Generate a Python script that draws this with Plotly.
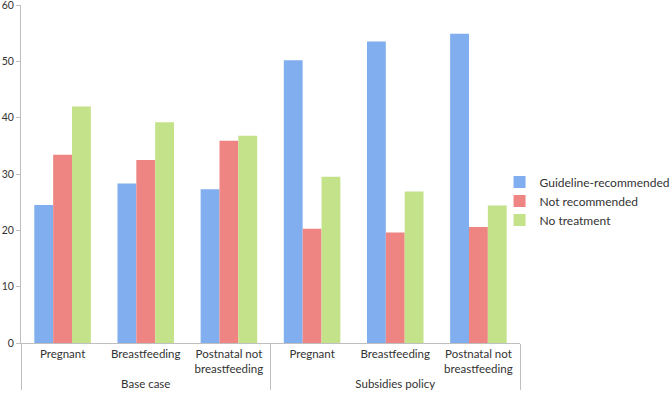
import plotly.graph_objects as go

groups = ["Base case"] * 3 + ["Subsidies policy"] * 3
subgroups = ["Pregnant", "Breastfeeding", "Postnatal not<br>breastfeeding"] * 2
guideline = [24.5, 28.3, 27.3, 50.2, 53.5, 54.9]
not_recommended = [33.4, 32.5, 35.9, 20.3, 19.6, 20.6]
no_treatment = [42.0, 39.2, 36.8, 29.5, 26.9, 24.4]
y_ticks = [0, 10, 20, 30, 40, 50, 60]

series = [
    ("Guideline-recommended", guideline, "#80AEEE"),
    ("Not recommended", not_recommended, "#EE8583"),
    ("No treatment", no_treatment, "#C4E28A"),
]

fig = go.Figure()
for name, vals, color in series:
    fig.add_trace(go.Bar(x=[groups, subgroups], y=vals, name=name,
                         marker=dict(color=color, line=dict(width=0))))

fig.update_layout(
    width=670, height=405,
    margin=dict(l=21, r=150, t=5, b=62, autoexpand=False),
    paper_bgcolor="white", plot_bgcolor="white",
    barmode="group", bargap=0.32, bargroupgap=0,
    font=dict(family="Lato, Open Sans, sans-serif", size=11, color="#333333"),
    legend=dict(x=0.959, y=0.42, yanchor="middle", xanchor="left",
                bgcolor="rgba(0,0,0,0)",
                font=dict(size=12), itemwidth=30),
    showlegend=True,
)
fig.update_xaxes(showline=True, linecolor="#BFBFBF", linewidth=1,
                 showdividers=True, dividercolor="#BFBFBF", dividerwidth=1,
                 tickfont=dict(size=11.5), ticks="", automargin=False)
fig.update_yaxes(range=[0, 60], tickmode="array", tickvals=y_ticks,
                 showgrid=False, zeroline=False,
                 showline=True, linecolor="#BFBFBF", linewidth=1,
                 ticks="outside", ticklen=4, tickcolor="#BFBFBF",
                 ticklabeloverflow="allow",
                 tickfont=dict(size=10.5), automargin=False)

fig.write_html("out.html", config={"displayModeBar": False},
               post_script="document.body.style.margin='0';")
